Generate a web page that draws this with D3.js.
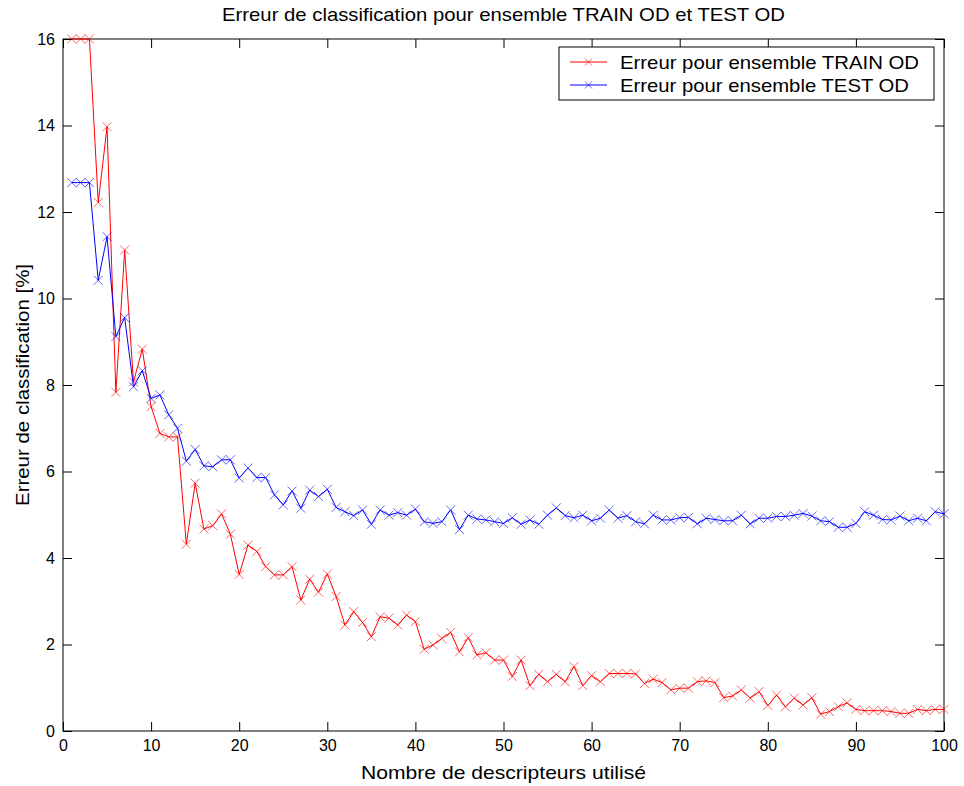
<!DOCTYPE html>
<html>
<head>
<meta charset="utf-8">
<script src="https://cdn.jsdelivr.net/npm/d3@7"></script>
<style>
  body { margin: 0; background: #fff; }
  svg { display: block; font-family: "Liberation Sans", Arial, sans-serif; }
</style>
</head>
<body>
<svg width="964" height="786"></svg>
<script>
// descriptor counts 1..100
const nDesc = d3.range(1, 101);

const trainErr = [
  16, 16, 16, 12.22, 13.97, 7.83, 11.12, 8.07, 8.83, 7.5,
  6.88, 6.8, 6.8, 4.32, 5.73, 4.67, 4.75, 5.02, 4.55, 3.62,
  4.3, 4.15, 3.8, 3.61, 3.61, 3.8, 3.03, 3.51, 3.21, 3.63,
  3.11, 2.45, 2.76, 2.51, 2.18, 2.64, 2.61, 2.45, 2.68, 2.53,
  1.89, 1.99, 2.14, 2.28, 1.83, 2.16, 1.76, 1.81, 1.64, 1.64,
  1.26, 1.64, 1.05, 1.31, 1.14, 1.31, 1.14, 1.49, 1.05, 1.28,
  1.14, 1.33, 1.33, 1.33, 1.32, 1.1, 1.2, 1.12, 0.95, 0.99,
  0.99, 1.14, 1.16, 1.12, 0.77, 0.81, 0.95, 0.76, 0.91, 0.59,
  0.83, 0.56, 0.76, 0.6, 0.77, 0.39, 0.45, 0.56, 0.65, 0.5,
  0.47, 0.47, 0.47, 0.45, 0.41, 0.41, 0.5, 0.47, 0.5, 0.5
];

const testErr = [
  12.68, 12.68, 12.68, 10.42, 11.43, 9.12, 9.56, 7.96, 8.33, 7.69,
  7.77, 7.31, 7.0, 6.24, 6.51, 6.13, 6.11, 6.27, 6.27, 5.85,
  6.08, 5.86, 5.86, 5.46, 5.23, 5.55, 5.15, 5.57, 5.42, 5.59,
  5.17, 5.07, 4.98, 5.11, 4.78, 5.11, 4.99, 5.05, 4.99, 5.13,
  4.84, 4.8, 4.84, 5.11, 4.66, 4.99, 4.9, 4.88, 4.84, 4.8,
  4.93, 4.78, 4.88, 4.78, 4.99, 5.16, 4.98, 4.93, 4.99, 4.86,
  4.92, 5.11, 4.92, 4.98, 4.84, 4.79, 4.99, 4.88, 4.88, 4.93,
  4.94, 4.79, 4.92, 4.89, 4.86, 4.86, 4.99, 4.79, 4.92, 4.92,
  4.96, 4.96, 4.99, 5.03, 4.97, 4.86, 4.84, 4.71, 4.71, 4.8,
  5.07, 4.99, 4.89, 4.88, 4.97, 4.86, 4.92, 4.86, 5.07, 5.02
];

const xTicks = d3.range(0, 101, 10);
const yTicks = d3.range(0, 17, 2);
const seriesNames = ['Erreur pour ensemble TRAIN OD', 'Erreur pour ensemble TEST OD'];
const colors = ['#ff0000', '#0000ff'];

const [width, height] = [964, 786];
const margin = {top: 39, right: 20, bottom: 55, left: 63};

const x = d3.scaleLinear()
  .domain([0, 100])
  .range([margin.left, width - margin.right]);

const y = d3.scaleLinear()
  .domain([0, 16])
  .range([height - margin.bottom, margin.top]);

const svg = d3.select('svg');

svg.append('rect')
  .attr('width', width).attr('height', height)
  .attr('fill', '#fff');

// axes, MATLAB style: ticks inside on all four sides
const tk = 9;
function styleAxis(g) {
  g.select('.domain').remove();
  g.selectAll('.tick line').attr('stroke', '#000');
  g.selectAll('.tick text').attr('fill', '#000').attr('font-size', 16);
}

svg.append('g')
  .attr('transform', `translate(0,${y(0)})`)
  .call(d3.axisBottom(x).tickValues(xTicks).tickSizeInner(-tk).tickSizeOuter(0).tickPadding(9))
  .call(styleAxis);

svg.append('g')
  .attr('transform', `translate(0,${y(16)})`)
  .call(d3.axisTop(x).tickValues(xTicks).tickSizeInner(-tk).tickSizeOuter(0).tickFormat(''))
  .call(styleAxis);

svg.append('g')
  .attr('transform', `translate(${x(0)},0)`)
  .call(d3.axisLeft(y).tickValues(yTicks).tickSizeInner(-tk).tickSizeOuter(0).tickPadding(8))
  .call(styleAxis);

svg.append('g')
  .attr('transform', `translate(${x(100)},0)`)
  .call(d3.axisRight(y).tickValues(yTicks).tickSizeInner(-tk).tickSizeOuter(0).tickFormat(''))
  .call(styleAxis);

svg.append('rect')
  .attr('x', x(0)).attr('y', y(16))
  .attr('width', x(100) - x(0)).attr('height', y(0) - y(16))
  .attr('fill', 'none')
  .attr('stroke', '#000')
  .attr('stroke-width', 1);

// series
const ms = 4.5;
const cross = `M${-ms},${-ms}L${ms},${ms}M${-ms},${ms}L${ms},${-ms}`;

const line = d3.line()
  .x(d => x(d[0]))
  .y(d => y(d[1]));

[trainErr, testErr].forEach((vals, k) => {
  const pts = nDesc.map((n, i) => [n, vals[i]]);
  const g = svg.append('g');
  g.append('path')
    .datum(pts)
    .attr('fill', 'none')
    .attr('stroke', colors[k])
    .attr('stroke-width', 1)
    .attr('d', line);
  g.selectAll('path.m')
    .data(pts)
    .join('path')
    .classed('m', true)
    .attr('transform', d => `translate(${x(d[0])},${y(d[1])})`)
    .attr('d', cross)
    .attr('fill', 'none')
    .attr('stroke', colors[k])
    .attr('stroke-opacity', 0.6)
    .attr('stroke-width', 1);
});

// title and labels (reference font runs wide, so stretch to its widths)
function label(sel, w) {
  return sel.attr('font-size', 19)
    .attr('textLength', w)
    .attr('lengthAdjust', 'spacingAndGlyphs');
}

svg.append('text')
  .attr('x', (x(0) + x(100)) / 2)
  .attr('y', 21)
  .attr('text-anchor', 'middle')
  .call(label, 563)
  .text('Erreur de classification pour ensemble TRAIN OD et TEST OD');

svg.append('text')
  .attr('x', (x(0) + x(100)) / 2)
  .attr('y', 779)
  .attr('text-anchor', 'middle')
  .call(label, 285)
  .text('Nombre de descripteurs utilisé');

svg.append('text')
  .attr('transform', `translate(29,${(y(0) + y(16)) / 2}) rotate(-90)`)
  .attr('text-anchor', 'middle')
  .call(label, 242)
  .text('Erreur de classification [%]');

// legend
const lg = svg.append('g').attr('transform', 'translate(559,47)');
lg.append('rect')
  .attr('width', 375).attr('height', 53)
  .attr('fill', '#fff')
  .attr('stroke', '#000');
const legendW = [299, 289];
seriesNames.forEach((name, k) => {
  const ly = 15 + k * 23;
  lg.append('line')
    .attr('x1', 11).attr('x2', 48)
    .attr('y1', ly).attr('y2', ly)
    .attr('stroke', colors[k]);
  lg.append('path')
    .attr('transform', `translate(29.5,${ly})`)
    .attr('d', `M-3.5,-3.5L3.5,3.5M-3.5,3.5L3.5,-3.5`)
    .attr('stroke', colors[k])
    .attr('stroke-opacity', 0.6);
  lg.append('text')
    .attr('x', 61).attr('y', ly + 7)
    .attr('font-size', 19)
    .attr('textLength', legendW[k])
    .attr('lengthAdjust', 'spacingAndGlyphs')
    .text(name);
});
</script>
</body>
</html>
